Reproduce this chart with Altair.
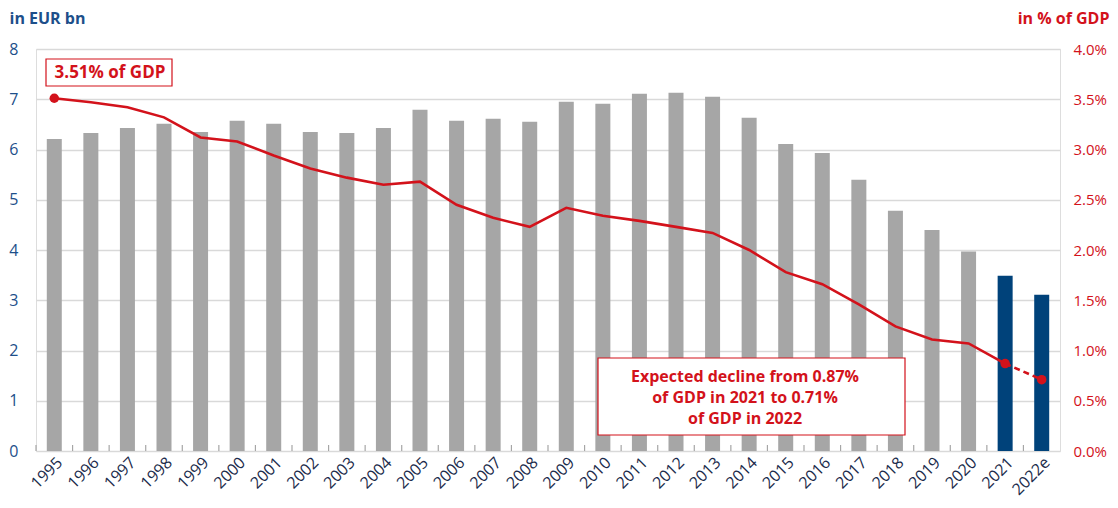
import altair as alt
import pandas as pd

# ---- data ----
years = [str(y) for y in range(1995, 2022)] + ["2022e"]
eur_bn = [6.21, 6.33, 6.43, 6.51, 6.35, 6.57, 6.51, 6.35, 6.33, 6.43,
          6.79, 6.57, 6.61, 6.55, 6.95, 6.91, 7.11, 7.13, 7.05, 6.63,
          6.11, 5.93, 5.40, 4.78, 4.40, 3.97, 3.49, 3.11]
pct_gdp = [3.51, 3.47, 3.42, 3.32, 3.12, 3.08, 2.94, 2.81, 2.72, 2.65,
           2.68, 2.45, 2.32, 2.23, 2.42, 2.34, 2.29, 2.23, 2.17, 2.00,
           1.78, 1.66, 1.46, 1.24, 1.11, 1.07, 0.87, 0.71]
highlight_years = ["2021", "2022e"]
point_years = ["1995", "2021", "2022e"]
note_1 = "3.51% of GDP"
note_2 = ["Expected decline from 0.87%", "of GDP in 2021 to 0.71%", "of GDP in 2022"]
left_ticks = [0, 1, 2, 3, 4, 5, 6, 7, 8]
right_ticks = [0, 0.5, 1.0, 1.5, 2.0, 2.5, 3.0, 3.5, 4.0]

df = pd.DataFrame({"year": years, "eur": eur_bn, "pct": pct_gdp})
df["kind"] = ["hl" if y in highlight_years else "hist" for y in years]
df_solid = df[df["year"] != "2022e"]
df_dash = df[df["year"].isin(["2021", "2022e"])]
df_pts = df[df["year"].isin(point_years)]

FONT = "Open Sans"
NAVY = "#1d4f8a"
RED = "#d3121b"
GRAY = "#a6a6a6"
BARNAVY = "#00427a"

W, H = 1024, 402

xscale = alt.Scale(paddingInner=0, paddingOuter=0)
xenc = alt.X("year:N", sort=years, scale=xscale,
             axis=alt.Axis(title=None, labelAngle=-45, labelFontSize=16,
                           labelColor="#1b2b4b", labelFont=FONT, ticks=False,
                           domain=False, labelPadding=3))

bars = alt.Chart(df).mark_bar(size=15).encode(
    x=xenc,
    y=alt.Y("eur:Q", scale=alt.Scale(domain=[0, 8]),
            axis=alt.Axis(title="in EUR bn", values=left_ticks, format="d",
                          titleAngle=0, titleAlign="left", titleBaseline="middle",
                          titleX=-27, titleY=-31, titleFontSize=16,
                          titleFontWeight="bold", titleColor=NAVY, titleFont=FONT,
                          labelColor=NAVY, labelFontSize=16, labelFont=FONT,
                          ticks=False, domain=False, labelPadding=18,
                          grid=True, gridColor="#d9d9d9", gridWidth=1.3)),
    color=alt.Color("kind:N", scale=alt.Scale(domain=["hist", "hl"], range=[GRAY, BARNAVY]),
                    legend=None),
)

band_ticks = alt.Chart(df).mark_rule(color=GRAY, strokeWidth=1.2).encode(
    x=alt.X("year:N", sort=years, bandPosition=0),
    y=alt.value(H),
    y2=alt.value(H - 6),
)

yright = alt.Y("pct:Q", scale=alt.Scale(domain=[0, 4]),
               axis=alt.Axis(title="in % of GDP", orient="right", values=right_ticks,
                             labelExpr="format(datum.value, '.1f') + '%'",
                             titleAngle=0, titleAlign="right", titleBaseline="middle",
                             titleX=49, titleY=-31, titleFontSize=16,
                             titleFontWeight="bold", titleColor=RED, titleFont=FONT,
                             labelColor=RED, labelFontSize=15, labelFont=FONT,
                             ticks=False, domain=False, labelPadding=13, grid=False))

line_solid = alt.Chart(df_solid).mark_line(color=RED, strokeWidth=2.6).encode(
    x=alt.X("year:N", sort=years), y=yright)
line_dash = alt.Chart(df_dash).mark_line(color=RED, strokeWidth=2.6, strokeDash=[6, 4]).encode(
    x=alt.X("year:N", sort=years), y=yright)
pts = alt.Chart(df_pts).mark_point(filled=True, color=RED, size=90, opacity=1).encode(
    x=alt.X("year:N", sort=years), y=yright)

line_layer = alt.layer(line_solid, line_dash, pts)

box1 = alt.Chart(df.head(1)).mark_rect(fill="white", stroke=RED, strokeWidth=1.2).encode(
    x=alt.value(10), x2=alt.value(136), y=alt.value(10), y2=alt.value(37))
text1 = alt.Chart(df.head(1)).mark_text(font=FONT, fontSize=17, fontWeight="bold",
                                        color=RED, align="center", baseline="middle").encode(
    x=alt.value(74), y=alt.value(24), text=alt.value(note_1))

box2 = alt.Chart(df.head(1)).mark_rect(fill="white", stroke=RED, strokeWidth=1.2).encode(
    x=alt.value(562), x2=alt.value(869), y=alt.value(309), y2=alt.value(386))
text2 = alt.Chart(df.head(1)).mark_text(font=FONT, fontSize=16, fontWeight="bold",
                                        color=RED, align="center", baseline="middle",
                                        lineHeight=21).encode(
    x=alt.value(709), y=alt.value(328), text=alt.value(note_2))

chart = alt.layer(
    alt.layer(bars, band_ticks, box2, text2),
    line_layer,
    alt.layer(box1, text1),
).resolve_scale(y="independent").properties(
    width=W, height=H,
    padding={"left": 28, "top": 41, "right": 50, "bottom": 49},
    autosize=alt.AutoSizeParams(type="none"),
).configure_view(stroke=GRAY, strokeWidth=2).configure(background="white")

chart.save("out.html", embed_options={"renderer": "svg", "actions": False})
